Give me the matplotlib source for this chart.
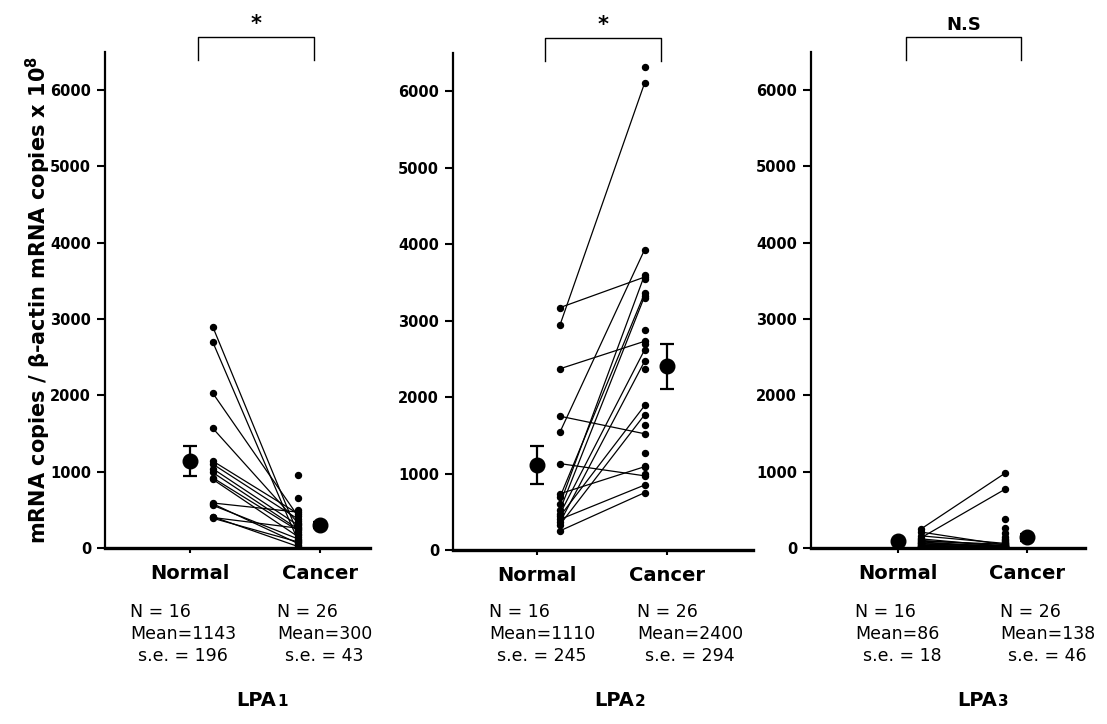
import matplotlib
matplotlib.use("Agg")
import matplotlib.pyplot as plt

# LPA1 values (first 16 cancer values are paired with the 16 normal values)
lpa1_normal = [2900, 2700, 2030, 1570, 1140, 1100, 1040, 990, 920, 900, 590, 580, 560, 410, 400, 390]
lpa1_cancer = [190, 100, 420, 330, 450, 380, 300, 250, 230, 150, 470, 60, 120, 20, 260, 80,
               960, 650, 500, 350, 280, 210, 170, 40, 90, 310]

# LPA2
lpa2_normal = [3170, 2940, 2370, 1750, 1540, 1130, 735, 690, 600, 520, 470, 440, 400, 360, 330, 250]
lpa2_cancer = [3570, 6110, 2730, 1520, 3930, 970, 1090, 3360, 3600, 3320, 2620, 1890, 850, 2470, 1770, 750,
               6320, 3540, 3300, 2880, 2690, 2370, 1640, 1270, 1000, 1100]

# LPA3
lpa3_normal = [245, 210, 160, 130, 120, 100, 90, 80, 70, 60, 50, 40, 30, 30, 20, 10]
lpa3_cancer = [980, 40, 60, 770, 20, 30, 50, 10, 20, 10, 30, 5, 20, 10, 5, 40,
               380, 260, 200, 150, 120, 100, 90, 80, 70, 50]

groups = ["Normal", "Cancer"]
genes = ["1", "2", "3"]
means = [(1143, 300), (1110, 2400), (86, 138)]
ses = [(196, 43), (245, 294), (18, 46)]
counts = (16, 26)
signif = ["*", "*", "N.S"]
yticks = [0, 1000, 2000, 3000, 4000, 5000, 6000]

W, H = 1107, 724


def px(x, y):
    """pixel position -> figure fraction"""
    return x / W, 1 - y / H


def draw_panel(ax, normal, cancer, mean, se, mark, xlim):
    n = len(normal)
    # paired lines
    for a, b in zip(normal, cancer[:n]):
        ax.plot([1.175, 1.83], [a, b], color="black", lw=0.9, zorder=2)
    ax.plot([1.175] * n, normal, "o", color="black", ms=4.3, zorder=3)
    ax.plot([1.83] * len(cancer), cancer, "o", color="black", ms=4.3, zorder=3)

    # group mean +- s.e.
    ax.errorbar([1, 2], mean, yerr=se, fmt="o", color="black", ms=10.5,
                capsize=5, elinewidth=1.6, capthick=1.6, zorder=4)

    ax.set_xlim(*xlim)
    ax.set_ylim(0, 6500)
    ax.set_yticks(yticks)
    ax.set_xticks([1, 2])
    ax.set_xticklabels(groups, fontsize=14, fontweight="bold")
    ax.tick_params(axis="y", direction="out", length=6, width=1.5, labelsize=10.5, pad=4)
    ax.tick_params(axis="x", direction="out", length=3.5, width=1.5, pad=8)
    for lab in ax.get_yticklabels():
        lab.set_fontweight("bold")
    for s in ["top", "right"]:
        ax.spines[s].set_visible(False)
    ax.spines["left"].set_linewidth(1.6)
    ax.spines["bottom"].set_linewidth(2.4)

    # significance bracket above the plot
    x0, x1 = 1.06, 1.955
    ax.plot([x0, x0, x1, x1], [6400, 6700, 6700, 6400], color="black", lw=1.0, clip_on=False)
    fs = 15 if mark == "*" else 13
    ax.text((x0 + x1) / 2, 6740, mark, ha="center", va="bottom", fontsize=fs,
            fontweight="bold", clip_on=False)


fig = plt.figure(figsize=(W / 100, H / 100), dpi=100)
boxes = [(105, 548, 265, 496), (453, 550, 300, 497), (811, 548, 274, 496)]
xlims = [(0.346, 2.385), (0.349, 2.667), (0.326, 2.45)]
data = [(lpa1_normal, lpa1_cancer), (lpa2_normal, lpa2_cancer), (lpa3_normal, lpa3_cancer)]

for i, (left, bottom, w, h) in enumerate(boxes):
    l, b = px(left, bottom)
    ax = fig.add_axes([l, b, w / W, h / H])
    draw_panel(ax, data[i][0], data[i][1], means[i], ses[i], signif[i], xlims[i])

# summary text under each group
cols = [(130, 277), (489, 637), (855, 1000)]
for i, (c1, c2) in enumerate(cols):
    for j, cx in enumerate((c1, c2)):
        fig.text(*px(cx, 612), f"N = {counts[j]}", fontsize=12.5, va="center")
        fig.text(*px(cx, 634), f"Mean={means[i][j]}", fontsize=12.5, va="center")
        fig.text(*px(cx + 8, 656), f"s.e. = {ses[i][j]}", fontsize=12.5, va="center")

# gene labels
centers = [270, 628, 991]
for i, cx in enumerate(centers):
    fig.text(*px(cx + 6, 700), "LPA", fontsize=14, fontweight="bold", ha="right", va="center")
    fig.text(*px(cx + 7, 702), genes[i], fontsize=11, fontweight="bold", ha="left", va="center")

fig.text(*px(38, 300), r"mRNA copies / $\mathbf{\beta}$-actin mRNA copies x 10$^{\mathbf{8}}$",
         rotation=90, fontsize=15, fontweight="bold", ha="center", va="center")

fig.savefig("out.png", dpi=100)
